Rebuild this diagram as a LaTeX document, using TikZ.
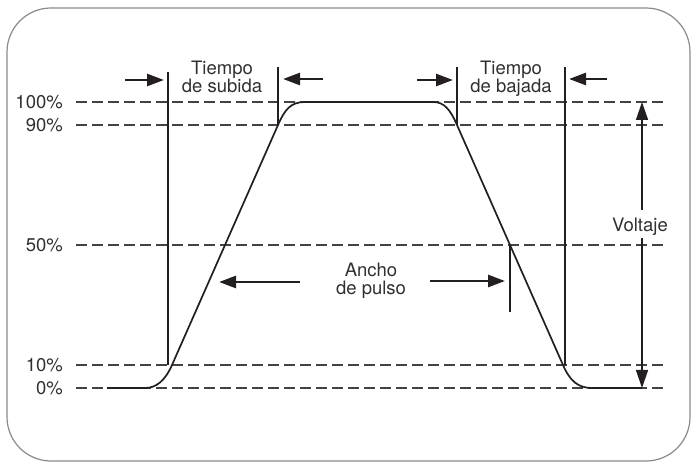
\documentclass[tikz,border=0pt]{standalone}
\usepackage{fontspec}
\setmainfont{TeX Gyre Heros}
\usetikzlibrary{arrows.meta}
\definecolor{ink}{HTML}{231F20}
\definecolor{txt}{HTML}{303030}
\definecolor{framecol}{HTML}{8A8A8A}
\begin{document}
\begin{tikzpicture}[x=1pt,y=-1pt,
  lbl/.style={font=\fontsize{18.5}{18}\selectfont, text=txt, inner sep=0pt},
  guide/.style={draw=ink!85, line width=1.1pt, dash pattern=on 10.7pt off 5.3pt},
  tickline/.style={draw=ink, line width=1.5pt},
  wave/.style={draw=ink, line width=1.7pt, line join=round},
  harrow/.style={draw=ink, line width=2.6pt, -{Triangle[length=17pt,width=12pt]}},
  varrow/.style={draw=ink, line width=1.4pt, -{Triangle[length=18pt,width=12pt]}}]
\useasboundingbox (0,0) rectangle (691,462);
\draw[framecol, line width=1.2pt, rounded corners=44pt] (7,8) rectangle (690,461);

% percentage labels
\node[lbl, anchor=east] (p100) at (63,102) {100\%};
\node[lbl, anchor=east] (p90)  at (63,125) {90\%};
\node[lbl, anchor=east] (p50)  at (63,245) {50\%};
\node[lbl, anchor=east] (p10)  at (63,365) {10\%};
\node[lbl, anchor=east] (p0)   at (63,388) {0\%};

% guide lines
\foreach \n/\y in {a/102,b/125,c/245,d/365,e/388}{
  \coordinate (gl\n) at (76,\y);
  \coordinate (gr\n) at (663,\y);
  \draw[guide] (gl\n) -- (gr\n);
}

% waveform
\draw[wave] (107,388) -- (145,388) .. controls (156,388) and (165,381) .. (172,365)
  -- (278,125) .. controls (285,109) and (291,102) .. (305,102)
  -- (433,102) .. controls (444,102) and (450,109) .. (457,125)
  -- (563,365) .. controls (570,381) and (578,388) .. (592,388) -- (642,388);

% vertical markers
\coordinate (m1t) at (168,72);  \coordinate (m1b) at (168,365);
\coordinate (m2t) at (278,67);  \coordinate (m2b) at (278,125);
\coordinate (m3t) at (457,67);  \coordinate (m3b) at (457,125);
\coordinate (m4t) at (565,67);  \coordinate (m4b) at (565,365);
\coordinate (m5t) at (510,245); \coordinate (m5b) at (510,312);
\foreach \m in {1,...,5}{ \draw[tickline] (m\m t) -- (m\m b); }

% texts
\node[lbl, anchor=base] (ts1) at (222,75) {Tiempo};
\node[lbl, anchor=base] (ts2) at (222,93) {de subida};
\node[lbl, anchor=base] (tb1) at (511,75) {Tiempo};
\node[lbl, anchor=base] (tb2) at (511,93) {de bajada};
\node[lbl, anchor=base] (an1) at (371,277) {Ancho};
\node[lbl, anchor=base] (an2) at (371,295) {de pulso};
\node[lbl, anchor=base] (volt) at (640,232) {Voltaje};

% horizontal arrows
\coordinate (a1s) at (125,80); \coordinate (a1e) at (164,80);
\coordinate (a2s) at (323,79); \coordinate (a2e) at (283,79);
\coordinate (a3s) at (417,80); \coordinate (a3e) at (453,80);
\coordinate (a4s) at (607,79); \coordinate (a4e) at (569,79);
\coordinate (a5s) at (300,282); \coordinate (a5e) at (219,282);
\coordinate (a6s) at (430,281); \coordinate (a6e) at (505,281);
\foreach \a in {1,...,6}{ \draw[harrow] (a\a s) -- (a\a e); }

% voltage arrow
\coordinate (vtop) at (642,102); \coordinate (vbot) at (642,388);
\coordinate (vu) at (642,210); \coordinate (vd) at (642,238);
\draw[varrow] (vu) -- (vtop);
\draw[varrow] (vd) -- (vbot);
\end{tikzpicture}
\end{document}
